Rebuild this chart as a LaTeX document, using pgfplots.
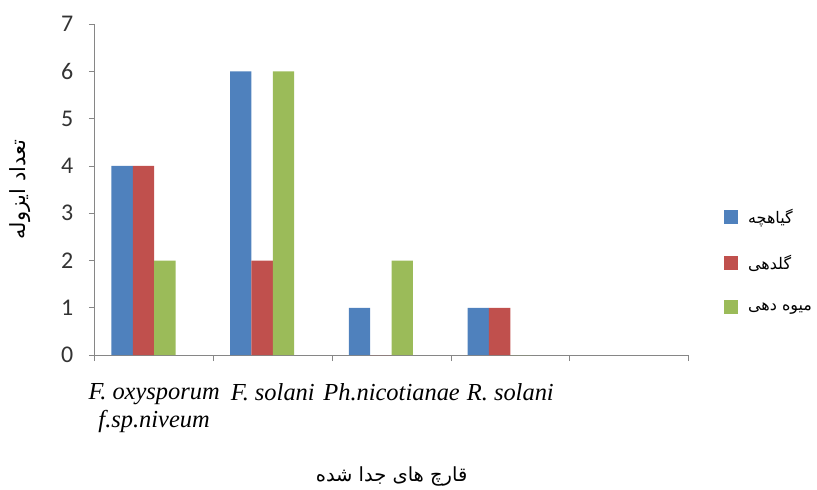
\documentclass[border=0pt]{standalone}
\usepackage{pgfplots}
\pgfplotsset{compat=1.18}
\usepackage{fontspec}
\setmainfont{Liberation Serif}
\newfontfamily\arabicfont[Script=Arabic]{DejaVu Sans}
\newfontfamily\numfont{Carlito}
\TeXXeTstate=1
\definecolor{xlblue}{HTML}{4F81BD}
\definecolor{xlred}{HTML}{C0504D}
\definecolor{xlgreen}{HTML}{9BBB59}
\definecolor{axisgray}{HTML}{868686}
\begin{document}
\begin{tikzpicture}
\begin{axis}[
  scale only axis, width=595bp, height=332bp,
  xmin=-0.41, xmax=4.59, ymin=0, ymax=7,
  axis x line=bottom, axis y line=left,
  axis line style={-, color=axisgray, line width=0.8bp},
  every tick/.style={color=axisgray, line width=0.8bp},
  tick align=outside, major tick length=6bp,
  /pgf/number format/assume math mode=true,
  ybar=0pt, bar width=0.18,
  ytick={0,1,2,3,4,5,6,7},
  yticklabel style={font=\numfont\fontsize{24bp}{28bp}\selectfont, text=black!80, xshift=-12bp},
  xtick={-0.41,0.59,1.59,2.59,3.59,4.59}, xticklabels={},
  extra x ticks={0.09,1.09,2.09,3.09},
  extra x tick labels={{\textit{F. oxysporum}\\\textit{f.sp.niveum}},\textit{F. solani},\textit{Ph.nicotianae},\textit{R. solani}},
  extra x tick style={major tick length=0pt, xticklabel style={align=center, anchor=north, font=\fontsize{24.5bp}{28bp}\selectfont, yshift=-25bp}},
  ylabel={\arabicfont\fontsize{21bp}{24bp}\selectfont\beginR تعداد ایزوله\endR},
  ylabel style={at={(rel axis cs:-0.126,0.5)}, anchor=center},
  xlabel={\arabicfont\fontsize{19.5bp}{23bp}\selectfont\beginR قارچ های جدا شده\endR},
  xlabel style={at={(rel axis cs:0.5,0)}, anchor=center, yshift=-122bp},
  legend style={draw=none, at={(rel axis cs:1.055,0.286)}, anchor=west,
    font=\arabicfont\fontsize{16bp}{19bp}\selectfont, row sep=27bp, cells={anchor=west}},
  legend image code/.code={\fill[#1] (0bp,-7bp) rectangle (14bp,7bp);},
  /pgfplots/legend cell align=left,
  /tikz/every odd column/.style={column sep=8bp},
]
\addplot[fill=xlblue, draw=none] coordinates {(0,4) (1,6) (2,1) (3,1)};
\addlegendentry{\beginR گیاهچه\endR}
\addplot[fill=xlred, draw=none] coordinates {(0,4) (1,2) (2,0) (3,1)};
\addlegendentry{\beginR گلدهی\endR}
\addplot[fill=xlgreen, draw=none] coordinates {(0,2) (1,6) (2,2) (3,0)};
\addlegendentry{\beginR میوه دهی\endR}
\end{axis}
\path (current axis.south west) ++(-95bp,-135bp) rectangle ++(817bp,491bp);
\end{tikzpicture}
\end{document}
